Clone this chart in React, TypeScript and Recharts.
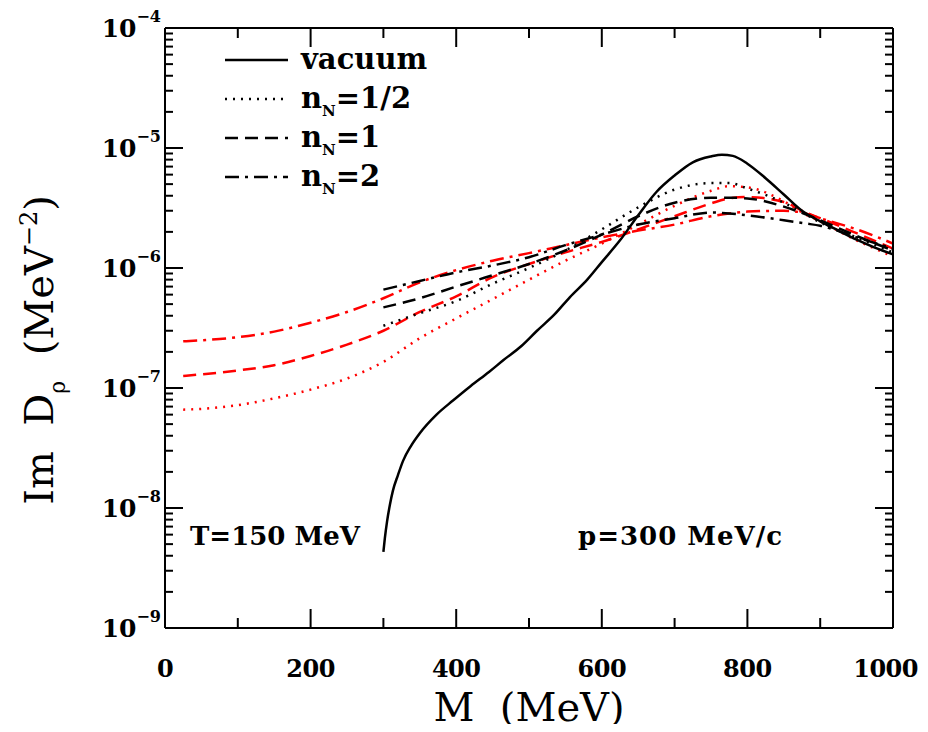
import React from "react";
import { LineChart, Line, XAxis, YAxis, Legend } from "recharts";

// M grids (MeV)
const M_VAC = [300, 302, 305, 309, 313, 320, 327, 338, 350, 373, 396, 420, 445, 465, 490, 511, 535, 556, 580, 600, 625, 650, 675, 700, 725, 750, 765, 780, 800, 825, 850, 875, 900, 925, 950, 975, 1000];
const M_RED = [25, 50, 100, 150, 200, 250, 300, 350, 400, 450, 500, 550, 600, 650, 700, 750, 775, 800, 850, 880, 900, 950, 1000];
const M_BLK = [300, 350, 400, 450, 500, 550, 600, 650, 700, 750, 775, 800, 850, 880, 900, 950, 1000];

// Im D_rho (MeV^-2)
const VACUUM = [4.3e-9, 5.6e-9, 7.7e-9, 1.07e-8, 1.39e-8, 1.88e-8, 2.47e-8, 3.3e-8, 4.2e-8, 6.0e-8, 7.9e-8, 1.04e-7, 1.36e-7, 1.71e-7, 2.25e-7, 3.0e-7, 4.1e-7, 5.7e-7, 8.0e-7, 1.12e-6, 1.7e-6, 2.75e-6, 4.3e-6, 5.9e-6, 7.6e-6, 8.5e-6, 8.8e-6, 8.6e-6, 7.4e-6, 5.6e-6, 4.1e-6, 3.0e-6, 2.45e-6, 2.05e-6, 1.72e-6, 1.48e-6, 1.3e-6];

const RED_HALF = [6.6e-8, 6.7e-8, 7.2e-8, 8.2e-8, 9.7e-8, 1.2e-7, 1.65e-7, 2.6e-7, 3.8e-7, 5.5e-7, 8.0e-7, 1.15e-6, 1.6e-6, 2.3e-6, 3.3e-6, 4.4e-6, 4.8e-6, 4.7e-6, 3.6e-6, 2.8e-6, 2.45e-6, 1.7e-6, 1.25e-6];
const RED_ONE = [1.26e-7, 1.3e-7, 1.4e-7, 1.55e-7, 1.85e-7, 2.3e-7, 3.0e-7, 4.3e-7, 5.8e-7, 8.4e-7, 1.08e-6, 1.35e-6, 1.65e-6, 2.1e-6, 2.7e-6, 3.45e-6, 3.8e-6, 3.9e-6, 3.55e-6, 2.9e-6, 2.6e-6, 1.95e-6, 1.45e-6];
const RED_TWO = [2.45e-7, 2.5e-7, 2.65e-7, 2.95e-7, 3.5e-7, 4.3e-7, 5.6e-7, 7.6e-7, 9.6e-7, 1.15e-6, 1.33e-6, 1.55e-6, 1.8e-6, 2.05e-6, 2.3e-6, 2.7e-6, 2.85e-6, 2.95e-6, 3.0e-6, 2.85e-6, 2.6e-6, 2.1e-6, 1.6e-6];

const BLK_HALF = [3.3e-7, 4.2e-7, 5.3e-7, 7.4e-7, 1.0e-6, 1.4e-6, 2.1e-6, 3.2e-6, 4.5e-6, 5.1e-6, 5.1e-6, 4.6e-6, 3.5e-6, 2.8e-6, 2.4e-6, 1.8e-6, 1.35e-6];
const BLK_ONE = [4.7e-7, 5.6e-7, 7.0e-7, 8.7e-7, 1.08e-6, 1.4e-6, 1.9e-6, 2.7e-6, 3.5e-6, 3.85e-6, 3.85e-6, 3.8e-6, 3.25e-6, 2.8e-6, 2.5e-6, 1.85e-6, 1.4e-6];
const BLK_TWO = [6.6e-7, 7.8e-7, 9.2e-7, 1.05e-6, 1.23e-6, 1.55e-6, 1.9e-6, 2.3e-6, 2.6e-6, 2.9e-6, 2.85e-6, 2.75e-6, 2.5e-6, 2.35e-6, 2.25e-6, 1.8e-6, 1.45e-6];

const X_TICKS = [0, 100, 200, 300, 400, 500, 600, 700, 800, 900, 1000];
const Y_EXP = [-9, -8, -7, -6, -5, -4];

const LEGEND_LABELS = ["vacuum", "1/2", "1", "2"];

const W = 920;
const H = 716;
const BOLD = "'DejaVu Serif', serif";

const toData = (ms: number[], ys: number[]) => ms.map((m, i) => ({ m, y: ys[i] }));

const yTicks: number[] = [];
Y_EXP.forEach((e) => {
  if (e === -4) yTicks.push(1e-4);
  else for (let k = 1; k <= 9; k++) yTicks.push(k * Math.pow(10, e));
});

const isDecade = (v: number) => Math.abs(Math.log10(v) - Math.round(Math.log10(v))) < 1e-6;

const DOT = "2 6";
const DASH = "13 7";
const DASHDOT = "14 6 3 6";

function BottomTick(props: any) {
  const { x, y, payload } = props;
  const major = payload.value % 200 === 0;
  // the last label would run past the page edge, so pin its right end
  const last = payload.value === X_TICKS[X_TICKS.length - 1];
  return (
    <g>
      <line x1={x} y1={y} x2={x} y2={y - (major ? 19 : 10)} stroke="#000" strokeWidth={2} />
      {major && (
        <text
          x={last ? x + 25 : x}
          y={y + 49}
          textAnchor={last ? "end" : "middle"}
          fontFamily={BOLD}
          fontWeight="bold"
          fontSize={24}
          letterSpacing={-0.5}
          fill="#000"
        >
          {payload.value}
        </text>
      )}
    </g>
  );
}

function TopTick(props: any) {
  const { x, y, payload } = props;
  const major = payload.value % 200 === 0;
  return <line x1={x} y1={y} x2={x} y2={y + (major ? 19 : 10)} stroke="#000" strokeWidth={2} />;
}

function LeftTick(props: any) {
  const { x, y, payload } = props;
  const major = isDecade(payload.value);
  const exp = Math.round(Math.log10(payload.value));
  return (
    <g>
      <line x1={x} y1={y} x2={x + (major ? 18 : 8)} y2={y} stroke="#000" strokeWidth={2} />
      {major && (
        <text x={x - 4} y={y + 9} textAnchor="end" fontFamily={BOLD} fontWeight="bold" fontSize={25} fill="#000">
          10
          <tspan dy={-15} fontSize={16}>{"\u2212" + Math.abs(exp)}</tspan>
        </text>
      )}
    </g>
  );
}

function RightTick(props: any) {
  const { x, y, payload } = props;
  const major = isDecade(payload.value);
  return <line x1={x} y1={y} x2={x - (major ? 18 : 8)} y2={y} stroke="#000" strokeWidth={2} />;
}

function LegendBox() {
  const dashes = [undefined, DOT, DASH, DASHDOT];
  return (
    <svg width={280} height={170}>
      {LEGEND_LABELS.map((lab, i) => {
        const cy = 22 + i * 39;
        return (
          <g key={lab}>
            <line x1={0} y1={cy} x2={63} y2={cy} stroke="#000" strokeWidth={2.5} strokeDasharray={dashes[i]} />
            {i === 0 ? (
              <text x={76} y={cy + 9} fontFamily={BOLD} fontWeight="bold" fontSize={29} fill="#000">
                {lab}
              </text>
            ) : (
              <text x={76} y={cy + 9} fontFamily={BOLD} fontWeight="bold" fontSize={29} fill="#000">
                n<tspan dy={8} fontSize={15}>N</tspan>
                <tspan dy={-8}>{"=" + lab}</tspan>
              </text>
            )}
          </g>
        );
      })}
    </svg>
  );
}

function Notes() {
  return (
    <g fontFamily={BOLD} fontWeight="bold" fontSize={26} fill="#000" style={{ whiteSpace: "pre" }}>
      <text x={182} y={537}>T=150  MeV</text>
      <text x={570} y={537} letterSpacing={1}>p=300  MeV/c</text>
    </g>
  );
}

export default function App() {
  const lineCommon = { dataKey: "y", dot: false, isAnimationActive: false, type: "monotone" as const, strokeWidth: 2.5 };
  return (
    <div>
      <style>{".recharts-wrapper,.recharts-surface{overflow:visible !important}"}</style>
      <LineChart width={W} height={H} margin={{ top: 19, right: 34, left: 156, bottom: 36 }}>
        <XAxis
          dataKey="m"
          type="number"
          domain={[0, 1000]}
          ticks={X_TICKS}
          interval={0}
          height={60}
          tickSize={0}
          tickMargin={0}
          tickLine={false}
          tick={<BottomTick />}
          axisLine={{ stroke: "#000", strokeWidth: 2 }}
          allowDataOverflow
          label={(p: any) => (
            <text
              x={p.viewBox.x + p.viewBox.width / 2}
              y={p.viewBox.y + 93}
              textAnchor="middle"
              fontFamily="'DejaVu Serif', serif"
              fontSize={40}
              fill="#000"
              style={{ whiteSpace: "pre" }}
            >
              {"M  (MeV)"}
            </text>
          )}
        />
        <XAxis
          xAxisId="top"
          orientation="top"
          dataKey="m"
          type="number"
          domain={[0, 1000]}
          ticks={X_TICKS}
          interval={0}
          height={1}
          tickSize={0}
          tickMargin={0}
          tickLine={false}
          tick={<TopTick />}
          axisLine={{ stroke: "#000", strokeWidth: 2 }}
          allowDataOverflow
        />
        <YAxis
          type="number"
          scale="log"
          domain={[1e-9, 1e-4]}
          ticks={yTicks}
          interval={0}
          width={1}
          tickSize={0}
          tickMargin={0}
          tickLine={false}
          tick={<LeftTick />}
          axisLine={{ stroke: "#000", strokeWidth: 2 }}
          allowDataOverflow
          label={(p: any) => {
            const cx = p.viewBox.x - 111;
            const cy = p.viewBox.y + p.viewBox.height / 2 + 22;
            return (
              <text
                x={cx}
                y={cy}
                transform={`rotate(-90 ${cx} ${cy})`}
                textAnchor="middle"
                fontFamily="'DejaVu Serif', serif"
                fontSize={40}
                fill="#000"
                style={{ whiteSpace: "pre" }}
              >
                {"Im  D"}
                <tspan dy={12} fontSize={22}>{"\u03c1"}</tspan>
                <tspan dy={-12}>{"  (MeV"}</tspan>
                <tspan dy={-16} fontSize={24}>{"\u22122"}</tspan>
                <tspan dy={16}>{")"}</tspan>
              </text>
            );
          }}
        />
        <YAxis
          yAxisId="right"
          orientation="right"
          type="number"
          scale="log"
          domain={[1e-9, 1e-4]}
          ticks={yTicks}
          interval={0}
          width={1}
          tickSize={0}
          tickMargin={0}
          tickLine={false}
          tick={<RightTick />}
          axisLine={{ stroke: "#000", strokeWidth: 2 }}
          allowDataOverflow
        />
        <Legend
          layout="vertical"
          align="center"
          verticalAlign="middle"
          wrapperStyle={{ top: 30, left: 217, width: 280 }}
          content={() => <LegendBox />}
        />
        <Line {...lineCommon} data={toData(M_RED, RED_HALF)} stroke="#ff0000" strokeDasharray={DOT} name="red half" />
        <Line {...lineCommon} data={toData(M_RED, RED_ONE)} stroke="#ff0000" strokeDasharray={DASH} name="red one" />
        <Line {...lineCommon} data={toData(M_RED, RED_TWO)} stroke="#ff0000" strokeDasharray={DASHDOT} name="red two" />
        <Line {...lineCommon} data={toData(M_BLK, BLK_HALF)} stroke="#000" strokeDasharray={DOT} name="nN=1/2" />
        <Line {...lineCommon} data={toData(M_BLK, BLK_ONE)} stroke="#000" strokeDasharray={DASH} name="nN=1" />
        <Line {...lineCommon} data={toData(M_BLK, BLK_TWO)} stroke="#000" strokeDasharray={DASHDOT} name="nN=2" />
        <Line {...lineCommon} data={toData(M_VAC, VACUUM)} stroke="#000" name="vacuum" />
        <Notes />
      </LineChart>
    </div>
  );
}
